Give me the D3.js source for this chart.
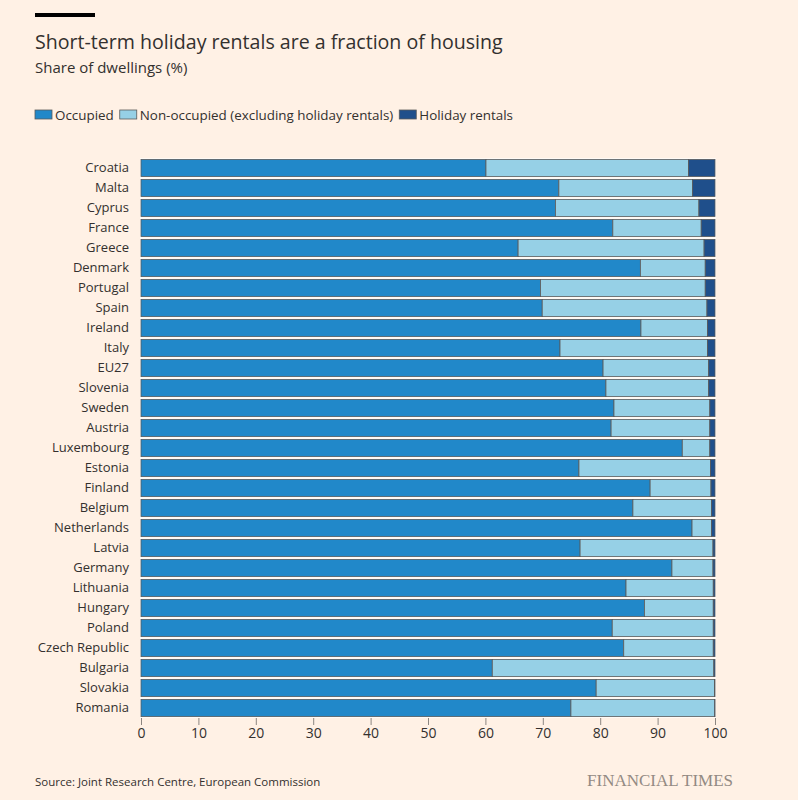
<!DOCTYPE html>
<html>
<head>
<meta charset="utf-8">
<script src="https://cdn.jsdelivr.net/npm/d3@7"></script>
<style>
  body { margin: 0; background: #fff1e5; }
  svg text { font-family: "Open Sans", sans-serif; fill: #33302e; }
</style>
</head>
<body>
<div id="chart"></div>
<script>
var countries = ["Croatia","Malta","Cyprus","France","Greece","Denmark","Portugal","Spain","Ireland","Italy",
  "EU27","Slovenia","Sweden","Austria","Luxembourg","Estonia","Finland","Belgium","Netherlands","Latvia",
  "Germany","Lithuania","Hungary","Poland","Czech Republic","Bulgaria","Slovakia","Romania"]
var occupied = [60.1,72.8,72.2,82.2,65.7,87.0,69.6,69.9,87.1,73.0,
  80.5,81.0,82.4,81.9,94.3,76.3,88.7,85.7,96.0,76.5,
  92.5,84.5,87.7,82.1,84.1,61.2,79.3,74.9]
var nonOccupied = [35.3,23.3,25.0,15.4,32.4,11.3,28.7,28.7,11.6,25.7,
  18.4,17.9,16.7,17.2,4.8,22.9,10.6,13.7,3.4,23.15,
  7.15,15.2,12.0,17.6,15.6,38.6,20.6,25.05]
var holiday = [4.6,3.9,2.8,2.4,1.9,1.7,1.7,1.4,1.3,1.3,
  1.1,1.1,0.9,0.9,0.9,0.8,0.7,0.6,0.6,0.35,
  0.35,0.3,0.3,0.3,0.3,0.2,0.1,0.05]
var seriesNames = ["Occupied","Non-occupied (excluding holiday rentals)","Holiday rentals"]
var xTicks = [0,10,20,30,40,50,60,70,80,90,100]

var colors = ["#2188c9","#96d0e6","#1f4f8b"]
var W = 798, H = 800

var svg = d3.select("#chart").append("svg").attr("width",W).attr("height",H)
svg.append("rect").attr("width",W).attr("height",H).attr("fill","#fff1e5")

// header
svg.append("rect").attr("x",35).attr("y",13).attr("width",60).attr("height",4).attr("fill","#000")
svg.append("text").attr("x",35).attr("y",49).style("font-size","19.6px").text("Short-term holiday rentals are a fraction of housing")
svg.append("text").attr("x",35).attr("y",73).style("font-size","15px").attr("fill","#4d4845").text("Share of dwellings (%)")

// legend - items placed one after another using measured text width
var leg = svg.append("g").attr("transform","translate(35,110)")
var lxPos = 0
seriesNames.forEach(function(name,i){
  var g = leg.append("g").attr("transform","translate(" + lxPos + ",0)")
  g.append("rect").attr("width",17).attr("height",9).attr("fill",colors[i])
    .attr("stroke","#5a5a5a").attr("stroke-width",0.8)
  var t = g.append("text").attr("x",20).attr("y",9.5).style("font-size","13.4px").text(name)
  lxPos += 20 + t.node().getComputedTextLength() + 6
})

var x = d3.scaleLinear().domain([0,100]).range([141,715])
var y = d3.scaleBand().domain(countries).range([158,718]).paddingInner(0.14).paddingOuter(0.07)

var rows = countries.map(function(c,i){
  return {country:c, segs:[occupied[i],nonOccupied[i],holiday[i]]}
})
var stacked = rows.map(function(r){
  var acc = 0
  return {country:r.country, segs:r.segs.map(function(v,k){ var s = {x0:acc,x1:acc+v,k:k}; acc += v; return s })}
})

var rowG = svg.selectAll(".row").data(stacked).enter().append("g").attr("class","row")
rowG.append("rect")
  .attr("x",x(0)-1).attr("y",function(d){ return y(d.country)-1 })
  .attr("width",x(100)-x(0)+2).attr("height",y.bandwidth()+2).attr("fill","#fff")
rowG.selectAll(".seg").data(function(d){ return d.segs.map(function(s){ s.country = d.country; return s }) })
  .enter().append("rect").attr("class","seg")
  .attr("x",function(s){ return x(s.x0) })
  .attr("y",function(s){ return y(s.country) })
  .attr("width",function(s){ return Math.max(0,x(s.x1)-x(s.x0)) })
  .attr("height",y.bandwidth())
  .attr("fill",function(s){ return colors[s.k] })
  .attr("stroke","#5a5a5a").attr("stroke-width",0.8)

// country labels
svg.append("g").attr("transform","translate(129,0)")
  .call(d3.axisLeft(y).tickSize(0).tickPadding(0))
  .call(function(g){
    g.select(".domain").remove()
    g.selectAll("text").style("font-size","13px").style("font-family","'Open Sans', sans-serif").attr("fill","#33302e")
  })

// x axis
svg.append("g").attr("transform","translate(0,718)")
  .call(d3.axisBottom(x).tickValues(xTicks).tickSize(7).tickPadding(3))
  .call(function(g){
    g.select(".domain").remove()
    g.selectAll("line").attr("stroke","#8c8681")
    g.selectAll("text").style("font-size","14px").style("font-family","'Open Sans', sans-serif").attr("fill","#4d4845")
  })

// footer
svg.append("text").attr("x",35).attr("y",786).style("font-size","11.5px").attr("fill","#4d4845")
  .text("Source: Joint Research Centre, European Commission")
svg.append("text").attr("x",733).attr("y",786).attr("text-anchor","end")
  .style("font-family","'Liberation Serif', 'DejaVu Serif', serif").style("font-size","17px")
  .style("fill","#938a83").text("FINANCIAL TIMES")
</script>
</body>
</html>
